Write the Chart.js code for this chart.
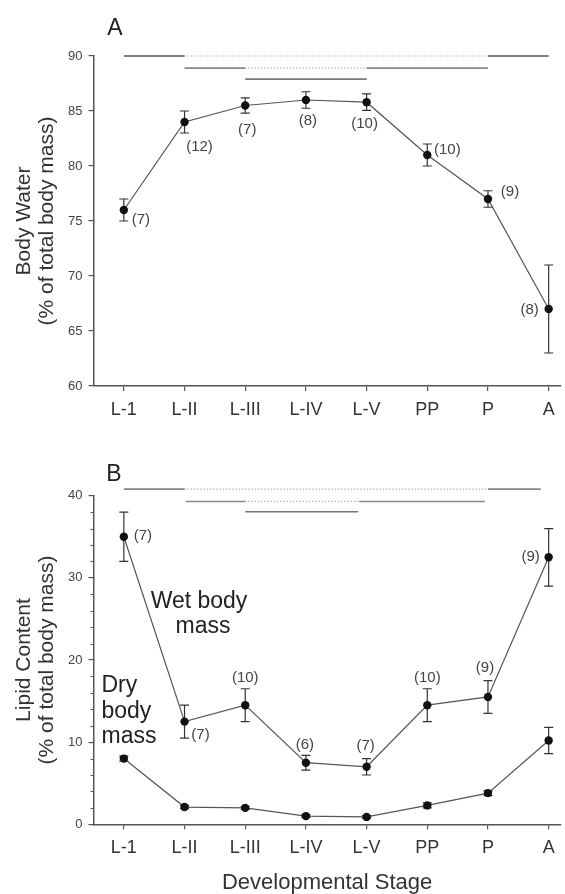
<!DOCTYPE html>
<html lang="en">
<head>
<meta charset="UTF-8">
<title>Body water and lipid content by developmental stage</title>
<script src="https://cdn.jsdelivr.net/npm/chart.js@4"></script>
<style>
  html, body { margin: 0; padding: 0; background: #fff; }
  .panel { position: absolute; left: 0; width: 565px; }
  #panelA { top: 0; height: 440px; }
  #panelB { top: 440px; height: 454px; }
</style>
</head>
<body>
<div class="panel" id="panelA"><canvas id="chartA" width="565" height="440"></canvas></div>
<div class="panel" id="panelB"><canvas id="chartB" width="565" height="454"></canvas></div>

<script>
var stages = ['L-1', 'L-II', 'L-III', 'L-IV', 'L-V', 'PP', 'P', 'A'];

// A: body water (% of total body mass), mean +/- error, n
var waterMean = [76, 84, 85.5, 86, 85.8, 81, 77, 67];
var waterErr  = [1, 1, 0.7, 0.75, 0.75, 1, 0.75, 4];
var waterN    = [7, 12, 7, 8, 10, 10, 9, 8];

// B: lipid content (% of total body mass)
var wetMean = [35, 12.5, 14.5, 7.5, 7, 14.5, 15.5, 32.5];
var wetErr  = [3, 2, 2, 0.9, 1, 2, 2, 3.5];
var wetN    = [7, 7, 10, 6, 7, 10, 9, 9];
var dryMean = [8, 2.1, 2, 1, 0.9, 2.3, 3.8, 10.2];
var dryErr  = [0.3, 0.2, 0.2, 0.15, 0.15, 0.3, 0.3, 1.6];

// homogeneous subsets drawn above the curves: [from stage, to stage, solid/dotted]
var subsetsA = [
    [[0, 1, 's'], [1, 6, 'd'], [6, 7, 's']],
    [[1, 2, 's'], [2, 4, 'd'], [4, 6, 's']],
    [[2, 4, 's']]
];
var subsetsB = [
    [[0, 1, 's'], [1, 6, 'd'], [6, 6.87, 's']],
    [[1.02, 2, 's'], [2, 3.88, 'd'], [3.88, 5.95, 's']],
    [[2, 3.86, 's']]
];

// where things go (pixels / axis values), kept apart from the data
var rowLevelA = [90, 88.9, 87.9];
var rowLevelB = [40.8, 39.3, 38.05];
var rowColorA = ['#555', '#888', '#777'];
var rowColorB = ['#888', '#888', '#777'];
var nOffsetA = [[17, 10], [15, 25], [2, 24], [2, 21], [-2, 22], [20, -5], [22, -7], [-19, 1]];
var nOffsetB = [[19, -1], [16, 13], [0, -27], [-1, -18], [-1, -21], [0, -27], [-3, -29], [-18, 0]];

var FONT = '"Liberation Sans", Arial, Helvetica, sans-serif';

function pts(arr) {
    return arr.map(function (v, i) { return { x: i, y: v }; });
}

// error bars under the points, annotations on top
var extras = {
    id: 'extras',
    beforeDatasetsDraw: function (chart, args, o) {
        var ctx = chart.ctx, xs = chart.scales.x, ys = chart.scales.y;
        ctx.save();
        ctx.strokeStyle = '#333';
        ctx.lineWidth = 1.2;
        o.bars.forEach(function (b) {
            b.mean.forEach(function (m, i) {
                var px = xs.getPixelForValue(i);
                var t = ys.getPixelForValue(m + b.err[i]);
                var d = ys.getPixelForValue(m - b.err[i]);
                ctx.beginPath();
                ctx.moveTo(px, t); ctx.lineTo(px, d);
                ctx.moveTo(px - 4.5, t); ctx.lineTo(px + 4.5, t);
                ctx.moveTo(px - 4.5, d); ctx.lineTo(px + 4.5, d);
                ctx.stroke();
            });
        });
        ctx.restore();
    },
    afterDraw: function (chart, args, o) {
        var ctx = chart.ctx, xs = chart.scales.x, ys = chart.scales.y;
        ctx.save();

        // minor ticks on the y axis
        if (o.minorStep) {
            ctx.strokeStyle = '#555';
            ctx.lineWidth = 1;
            for (var v = ys.min; v <= ys.max; v += o.minorStep) {
                if (v % ys.options.ticks.stepSize === 0) continue;
                var py = Math.round(ys.getPixelForValue(v)) + 0.5;
                ctx.beginPath();
                ctx.moveTo(chart.chartArea.left - 3, py);
                ctx.lineTo(chart.chartArea.left, py);
                ctx.stroke();
            }
        }

        // subset lines
        o.rows.forEach(function (row, r) {
            var py = ys.getPixelForValue(o.rowLevel[r]);
            row.forEach(function (seg) {
                ctx.beginPath();
                if (seg[2] === 'd') {
                    ctx.setLineDash([1.2, 2]);
                    ctx.strokeStyle = '#aaa';
                    ctx.lineWidth = 1.2;
                } else {
                    ctx.setLineDash([]);
                    ctx.strokeStyle = o.rowColor[r];
                    ctx.lineWidth = 1.6;
                }
                ctx.moveTo(xs.getPixelForValue(seg[0]), py);
                ctx.lineTo(xs.getPixelForValue(seg[1]), py);
                ctx.stroke();
            });
        });
        ctx.setLineDash([]);

        // sample sizes
        ctx.fillStyle = '#444';
        ctx.font = '15px ' + FONT;
        ctx.textAlign = 'center';
        ctx.textBaseline = 'middle';
        o.n.forEach(function (n, i) {
            var px = xs.getPixelForValue(i) + o.nOffset[i][0];
            var py = ys.getPixelForValue(o.nMean[i]) + o.nOffset[i][1];
            ctx.fillText('(' + n + ')', px, py);
        });

        // panel letter and free text
        ctx.fillStyle = '#222';
        o.texts.forEach(function (t) {
            ctx.font = t.size + 'px ' + FONT;
            ctx.textAlign = t.align;
            ctx.textBaseline = 'alphabetic';
            ctx.fillText(t.text, t.x, t.y);
        });
        ctx.restore();
    }
};

function makeChart(id, cfg) {
    var lineSets = cfg.series.map(function (s) {
        return {
            data: pts(s),
            borderColor: '#555',
            borderWidth: 1.2,
            pointRadius: 4.2,
            pointBackgroundColor: '#111',
            pointBorderColor: '#111',
            pointBorderWidth: 0,
            fill: false,
            tension: 0,
            clip: false
        };
    });

    return new Chart(document.getElementById(id), {
        type: 'line',
        data: { datasets: lineSets },
        options: {
            responsive: false,
            animation: false,
            layout: { padding: { top: cfg.padTop, right: 1, left: 0, bottom: 0 } },
            plugins: {
                legend: { display: false },
                tooltip: { enabled: false },
                extras: cfg.extras
            },
            scales: {
                x: {
                    type: 'linear',
                    min: -0.5,
                    max: 7.2,
                    afterBuildTicks: function (s) {
                        s.ticks = stages.map(function (_, i) { return { value: i }; });
                    },
                    afterFit: function (s) { s.height = cfg.xHeight; },
                    ticks: {
                        callback: function (v) { return stages[v]; },
                        font: { size: 18, family: FONT },
                        color: '#333',
                        padding: 8,
                        maxRotation: 0,
                        autoSkip: false
                    },
                    grid: { drawOnChartArea: false, color: '#555', tickLength: 5, lineWidth: 1.2 },
                    border: { color: '#555', width: 1.5 },
                    title: cfg.xTitle
                },
                y: {
                    min: cfg.yMin,
                    max: cfg.yMax,
                    afterFit: function (s) { s.width = 93.5; },
                    ticks: {
                        stepSize: cfg.yStep,
                        font: { size: 13, family: FONT },
                        color: '#444',
                        padding: 6
                    },
                    grid: { drawOnChartArea: false, color: '#555', tickLength: 5, lineWidth: 1.2 },
                    border: { color: '#555', width: 1.5 },
                    title: {
                        display: true,
                        text: cfg.yTitle,
                        font: { size: 21, family: FONT, lineHeight: 1.12 },
                        color: '#333',
                        padding: { top: 12, bottom: 0 }
                    }
                }
            }
        },
        plugins: [extras]
    });
}

makeChart('chartA', {
    series: [waterMean],
    padTop: 56,
    xHeight: 54,
    yMin: 60, yMax: 90, yStep: 5,
    yTitle: ['Body Water', '(% of total body mass)'],
    xTitle: { display: false },
    extras: {
        bars: [{ mean: waterMean, err: waterErr }],
        rows: subsetsA, rowLevel: rowLevelA, rowColor: rowColorA,
        n: waterN, nMean: waterMean, nOffset: nOffsetA,
        minorStep: 0,
        texts: [{ text: 'A', x: 115, y: 35, size: 23, align: 'center' }]
    }
});

makeChart('chartB', {
    series: [wetMean, dryMean],
    padTop: 55.7,
    xHeight: 69.7,
    yMin: 0, yMax: 40, yStep: 10,
    yTitle: ['Lipid Content', '(% of total body mass)'],
    xTitle: {
        display: true,
        text: 'Developmental Stage',
        font: { size: 22, family: FONT, lineHeight: 1.0 },
        color: '#333',
        padding: { top: 0, bottom: 0 }
    },
    extras: {
        bars: [{ mean: wetMean, err: wetErr }, { mean: dryMean, err: dryErr }],
        rows: subsetsB, rowLevel: rowLevelB, rowColor: rowColorB,
        n: wetN, nMean: wetMean, nOffset: nOffsetB,
        minorStep: 2,
        texts: [
            { text: 'B', x: 114, y: 41, size: 23, align: 'center' },
            { text: 'Wet body', x: 199, y: 168, size: 23, align: 'center' },
            { text: 'mass', x: 203, y: 193, size: 23, align: 'center' },
            { text: 'Dry', x: 101.5, y: 252, size: 23, align: 'left' },
            { text: 'body', x: 101.5, y: 278, size: 23, align: 'left' },
            { text: 'mass', x: 101.5, y: 303, size: 23, align: 'left' }
        ]
    }
});
</script>
</body>
</html>
